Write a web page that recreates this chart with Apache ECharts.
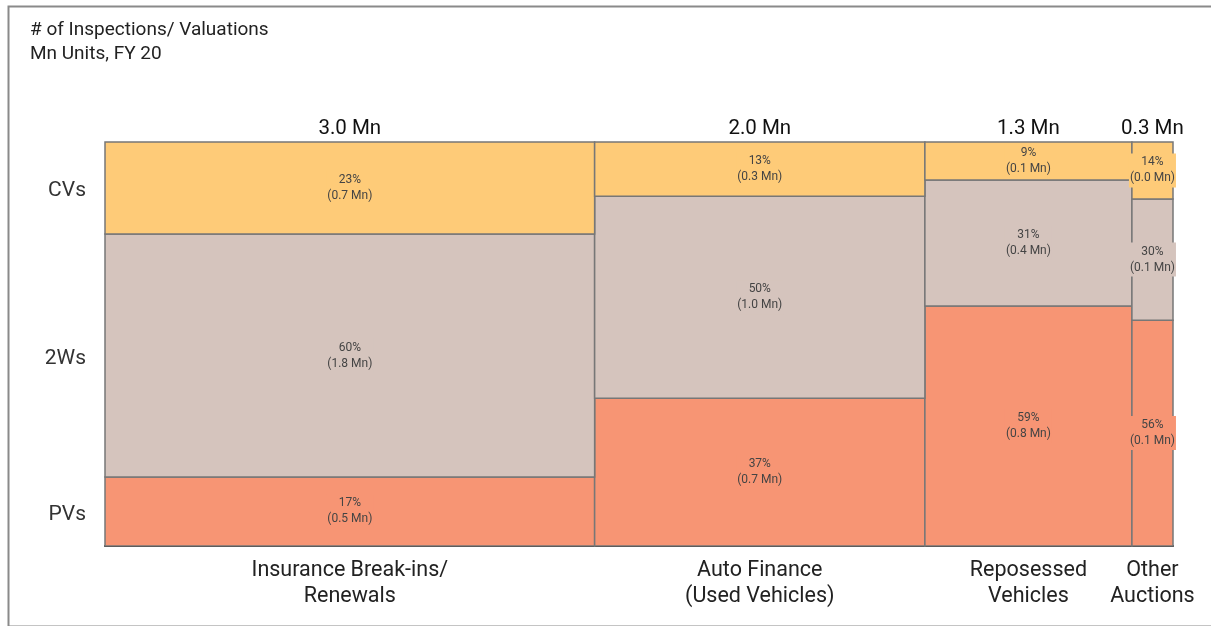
<!DOCTYPE html>
<html>
<head>
<meta charset="utf-8">
<script src="https://cdn.jsdelivr.net/npm/echarts@6/dist/echarts.min.js"></script>
<style>
  html, body { margin: 0; padding: 0; background: #fff; }
  #main { width: 1211px; height: 626px; }
</style>
</head>
<body>
<div id="main"></div>
<script>
// channels (columns) and their total volume in Mn units
var channels = ["Insurance Break-ins/\nRenewals", "Auto Finance\n(Used Vehicles)", "Reposessed\nVehicles", "Other\nAuctions"];
var totals = [2.98, 2.01, 1.26, 0.25];
var totalLabels = ["3.0 Mn", "2.0 Mn", "1.3 Mn", "0.3 Mn"];

// vehicle segments, bottom to top
var segments = ["PVs", "2Ws", "CVs"];
var colors = ["#F79574", "#D5C4BD", "#FECB78"];

// share of each segment per channel (%)
var pvShare = [17.1, 36.6, 59.4, 55.9];
var twShare = [60.1, 50.0, 31.2, 30.0];
var cvShare = [22.8, 13.4, 9.4, 14.1];

// volume labels (Mn) per segment
var pvMn = [0.5, 0.7, 0.8, 0.1];
var twMn = [1.8, 1.0, 0.4, 0.1];
var cvMn = [0.7, 0.3, 0.1, 0.0];

var shares = [pvShare, twShare, cvShare];
var mns = [pvMn, twMn, cvMn];

var sumTotal = 0;
var starts = [];
var centers = [];
for (var i = 0; i < totals.length; i++) {
  starts.push(sumTotal);
  centers.push(sumTotal + totals[i] / 2);
  sumTotal += totals[i];
}

// y-centres of the first column's segments, used for the row labels
var rowCenters = [];
var acc = 0;
for (var s = 0; s < segments.length; s++) {
  rowCenters.push(acc + shares[s][0] / 2);
  acc += shares[s][0];
}

function findIndex(list, v) {
  for (var k = 0; k < list.length; k++) {
    if (Math.abs(list[k] - v) < 1e-6) return k;
  }
  return -1;
}

var series = [];
for (var s = 0; s < segments.length; s++) {
  var data = [];
  for (var i = 0; i < totals.length; i++) {
    var y0 = 0;
    for (var t = 0; t < s; t++) y0 += shares[t][i];
    data.push([starts[i], starts[i] + totals[i], y0, y0 + shares[s][i]]);
  }
  (function (s) {
    series.push({
      name: segments[s],
      type: "custom",
      data: data,
      encode: { x: [0, 1], y: [2, 3] },
      renderItem: function (params, api) {
        var i = params.dataIndex;
        var p0 = api.coord([api.value(0), api.value(3)]);
        var p1 = api.coord([api.value(1), api.value(2)]);
        var label = Math.round(shares[s][i]) + "%\n(" + mns[s][i].toFixed(1) + " Mn)";
        return {
          type: "rect",
          shape: { x: p0[0], y: p0[1], width: p1[0] - p0[0], height: p1[1] - p0[1] },
          style: { fill: colors[s], stroke: "#777", lineWidth: 1.5 },
          textContent: {
            style: {
              text: label,
              fontFamily: "Roboto",
              fontSize: 12,
              lineHeight: 16,
              fill: "#444",
              align: "center",
              backgroundColor: colors[s],
              padding: [1, 1]
            }
          },
          textConfig: { position: "inside" }
        };
      }
    });
  })(s);
}

var chart = echarts.init(document.getElementById("main"));
var option = {
  backgroundColor: "#FFFFFF",
  animation: false,
  title: {
    text: "# of Inspections/ Valuations\nMn Units, FY 20",
    left: 25,
    top: 13,
    textStyle: {
      fontFamily: "Roboto",
      fontSize: 19,
      fontWeight: "normal",
      lineHeight: 24,
      color: "#222"
    }
  },
  graphic: [
    {
      type: "rect",
      left: 6,
      top: 4,
      shape: { width: 1214, height: 620 },
      style: { fill: "none", stroke: "#8a8a8a", lineWidth: 2 },
      silent: true
    }
  ],
  grid: { left: 105, right: 38, top: 142, bottom: 80 },
  xAxis: [
    {
      type: "value",
      min: 0,
      max: sumTotal,
      position: "bottom",
      axisLine: { show: true, lineStyle: { color: "#111", width: 2 } },
      axisTick: { show: false },
      splitLine: { show: false },
      axisLabel: {
        customValues: centers,
        formatter: function (v) { return channels[findIndex(centers, v)] || ""; },
        fontFamily: "Roboto",
        fontSize: 21.5,
        lineHeight: 26,
        color: "#222",
        margin: 12
      }
    },
    {
      type: "value",
      min: 0,
      max: sumTotal,
      position: "top",
      axisLine: { show: false },
      axisTick: { show: false },
      splitLine: { show: false },
      axisLabel: {
        customValues: centers,
        formatter: function (v) { return totalLabels[findIndex(centers, v)] || ""; },
        fontFamily: "Roboto",
        fontSize: 20.5,
        color: "#111",
        margin: 3
      }
    }
  ],
  yAxis: {
    type: "value",
    min: 0,
    max: 100,
    axisLine: { show: false },
    axisTick: { show: false },
    splitLine: { show: false },
    axisLabel: {
      customValues: rowCenters,
      formatter: function (v) { return "{a|" + (segments[findIndex(rowCenters, v)] || "") + "}"; },
      margin: 19,
      rich: {
        a: {
          fontFamily: "Roboto",
          fontSize: 21,
          color: "#333",
          padding: [6, 0, 0, 0]
        }
      }
    }
  },
  series: series
};
chart.setOption(option);
</script>
</body>
</html>
